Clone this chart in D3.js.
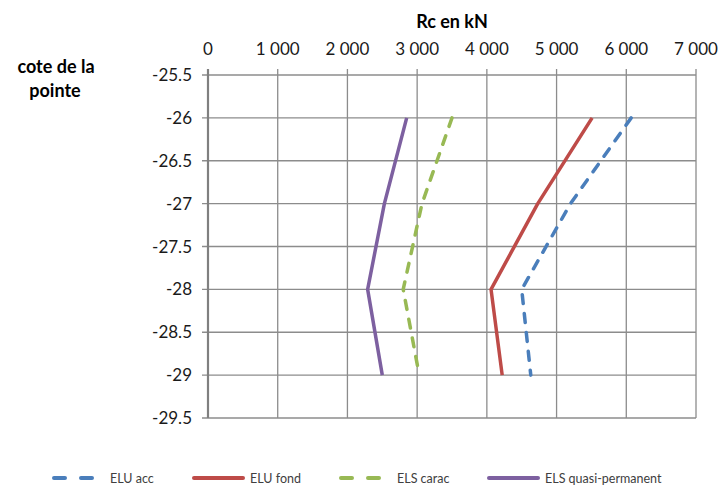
<!DOCTYPE html>
<html>
<head>
<meta charset="utf-8">
<script src="https://cdn.jsdelivr.net/npm/d3@7"></script>
<style>
  body { margin: 0; background: #fff; }
  svg text { font-family: Lato, "Open Sans", sans-serif; }
</style>
</head>
<body>
<svg id="chart" width="720" height="486"></svg>
<script>
// data
let cotes = [-26, -27, -28, -29];
let eluAcc = [6070, 5200, 4500, 4630];
let eluFond = [5510, 4730, 4060, 4220];
let elsCarac = [3500, 3070, 2800, 3030];
let elsQuasi = [2850, 2530, 2290, 2500];
let seriesNames = ["ELU acc", "ELU fond", "ELS carac", "ELS quasi-permanent"];
let seriesColors = ["#4a7ebb", "#be4b48", "#98b954", "#7d60a0"];
let seriesDashed = [true, false, true, false];
let xTicks = [0, 1000, 2000, 3000, 4000, 5000, 6000, 7000];
let yTicks = [-25.5, -26, -26.5, -27, -27.5, -28, -28.5, -29, -29.5];

let margins = { top: 75, right: 24, bottom: 68, left: 208 };
let width = 720, height = 486;
let innerWidth = width - margins.left - margins.right;
let innerHeight = height - margins.top - margins.bottom;

let svg = d3.select("#chart");
let g = svg.append("g")
  .attr("transform", "translate(" + margins.left + "," + margins.top + ")");

let xScale = d3.scaleLinear().domain([0, 7000]).range([0, innerWidth]);
let yScale = d3.scaleLinear().domain([-25.5, -29.5]).range([0, innerHeight]);

// vertical grid
g.append("g")
  .selectAll("line")
  .data(xTicks)
  .join("line")
  .attr("x1", d => xScale(d)).attr("x2", d => xScale(d))
  .attr("y1", -6).attr("y2", innerHeight)
  .attr("stroke", "#8c8c8c").attr("stroke-width", 1.3);

// horizontal grid
g.append("g")
  .selectAll("line")
  .data(yTicks)
  .join("line")
  .attr("x1", -6).attr("x2", innerWidth)
  .attr("y1", d => yScale(d)).attr("y2", d => yScale(d))
  .attr("stroke", "#8c8c8c").attr("stroke-width", 1.3);

// left axis line (a bit heavier)
g.append("line")
  .attr("x1", 0).attr("x2", 0)
  .attr("y1", -6).attr("y2", innerHeight)
  .attr("stroke", "#808080").attr("stroke-width", 2.2);

// top axis labels, french thousands separator
let fmt = d => d3.format(",")(d).replace(",", " ");
g.append("g")
  .selectAll("text")
  .data(xTicks)
  .join("text")
  .attr("x", d => xScale(d))
  .attr("y", -20)
  .attr("text-anchor", "middle")
  .style("font-size", "17px")
  .style("fill", "#1a1a1a")
  .text(d => fmt(d));

// left axis labels
g.append("g")
  .selectAll("text")
  .data(yTicks)
  .join("text")
  .attr("x", -16)
  .attr("y", d => yScale(d) + 6)
  .attr("text-anchor", "end")
  .style("font-size", "17px")
  .style("fill", "#1a1a1a")
  .text(d => d);

// titles
svg.append("text")
  .attr("x", 452).attr("y", 28)
  .attr("text-anchor", "middle")
  .style("font-size", "18px").style("font-weight", "bold")
  .text("Rc en kN");
svg.append("text")
  .attr("x", 56).attr("y", 73)
  .attr("text-anchor", "middle")
  .style("font-size", "18px").style("font-weight", "bold")
  .text("cote de la");
svg.append("text")
  .attr("x", 55).attr("y", 97)
  .attr("text-anchor", "middle")
  .style("font-size", "18px").style("font-weight", "bold")
  .text("pointe");

// series
let allSeries = [eluAcc, eluFond, elsCarac, elsQuasi];
let line = d3.line()
  .x(d => xScale(d[0]))
  .y(d => yScale(d[1]));

allSeries.forEach((vals, i) => {
  g.append("path")
    .datum(vals.map((v, k) => [v, cotes[k]]))
    .attr("d", line)
    .attr("fill", "none")
    .attr("stroke", seriesColors[i])
    .attr("stroke-width", 3.5)
    .attr("stroke-linecap", seriesDashed[i] ? "round" : "butt")
    .attr("stroke-linejoin", "round")
    .attr("stroke-dasharray", seriesDashed[i] ? "9,10" : null);
});

// legend
let legendX = [52, 192, 339, 487];
let legend = svg.append("g");
seriesNames.forEach((name, i) => {
  let lg = legend.append("g").attr("transform", "translate(" + legendX[i] + ",478)");
  lg.append("line")
    .attr("x1", 2).attr("x2", 51)
    .attr("y1", 0).attr("y2", 0)
    .attr("stroke", seriesColors[i])
    .attr("stroke-width", 4)
    .attr("stroke-linecap", "round")
    .attr("stroke-dasharray", seriesDashed[i] ? "11,16" : null);
  lg.append("text")
    .attr("x", 58)
    .attr("y", 4.5)
    .style("font-size", "12.5px")
    .style("fill", "#404040")
    .text(name);
});
</script>
</body>
</html>
